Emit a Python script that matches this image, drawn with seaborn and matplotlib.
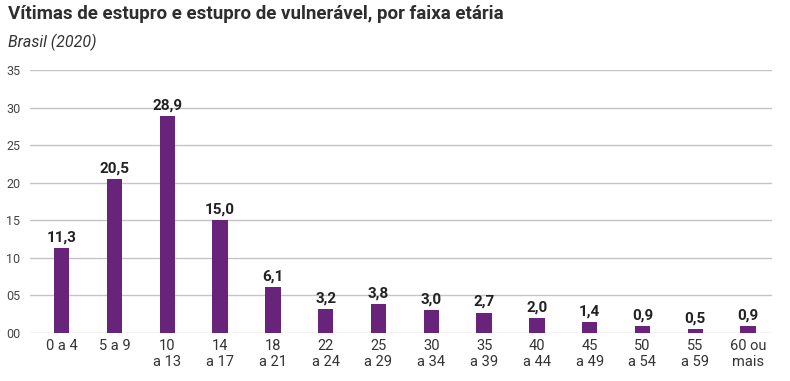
import matplotlib
matplotlib.use("Agg")
import matplotlib.pyplot as plt
import seaborn as sns
import pandas as pd

faixas = ["0 a 4", "5 a 9", "10\na 13", "14\na 17", "18\na 21", "22\na 24", "25\na 29",
          "30\na 34", "35\na 39", "40\na 44", "45\na 49", "50\na 54", "55\na 59", "60 ou\nmais"]
valores = [11.3, 20.5, 28.9, 15.0, 6.1, 3.2, 3.8, 3.0, 2.7, 2.0, 1.4, 0.9, 0.5, 0.9]
yticks = [0, 5, 10, 15, 20, 25, 30, 35]
ytick_labels = ["00", "05", "10", "15", "20", "25", "30", "35"]

df = pd.DataFrame({"faixa": faixas, "valor": valores})

sns.set_style("white")
plt.rcParams["font.family"] = ["Roboto", "DejaVu Sans"]

fig = plt.figure(figsize=(7.9, 3.81), dpi=100)
ax = fig.add_axes([0.038, 0.126, 0.939, 0.69])

roxo = "#68237a"
sns.barplot(data=df, x="faixa", y="valor", color=roxo, width=0.29, saturation=1,
            linewidth=0, ax=ax, zorder=3)

for i, v in enumerate(valores):
    ax.text(i, v + 0.5, f"{v:.1f}".replace(".", ","), ha="center", va="bottom",
            fontsize=11, fontweight="bold", color="#222222")

ax.set_ylim(0, 35)
ax.set_xlim(-0.6, 13.45)
ax.set_yticks(yticks)
ax.set_yticklabels(ytick_labels, fontsize=9, color="#444444")
ax.tick_params(axis="x", labelsize=10.5, colors="#333333", length=0, pad=4)
ax.tick_params(axis="y", length=0, pad=7)
ax.yaxis.grid(True, color="#c4c4c4", linewidth=1.0, zorder=0)
ax.set_axisbelow(True)
for s in ax.spines.values():
    s.set_visible(False)
ax.set_xlabel("")
ax.set_ylabel("")

fig.text(0.01, 0.988, "Vítimas de estupro e estupro de vulnerável, por faixa etária",
         fontsize=13.5, fontweight="bold", color="#2e2e2e", ha="left", va="top")
fig.text(0.01, 0.912, "Brasil (2020)", fontsize=11.5, style="italic", color="#333333",
         ha="left", va="top")

fig.savefig("out.png", dpi=100)
